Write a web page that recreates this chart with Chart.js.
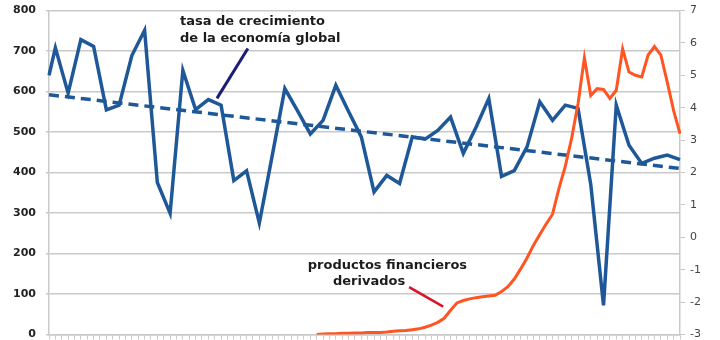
<!DOCTYPE html>
<html>
<head>
<meta charset="utf-8">
<script src="https://cdn.jsdelivr.net/npm/chart.js@4/dist/chart.umd.min.js"></script>
<style>
  html, body { margin: 0; padding: 0; background: #fff; }
  #wrap { width: 720px; height: 340px; }
</style>
</head>
<body>
<div id="wrap"><canvas id="chart" width="720" height="340"></canvas></div>
<script>
// half-year periods along the x axis (no labels drawn, only tick marks)
const periods = [];
for (let i = 0; i < 100; i++) {
  const year = 1960 + Math.floor((i + 1) / 2);
  periods.push(year + (i % 2 ? '-I' : '-II'));
}

// world GDP growth, % per year (right axis), one value per year
const growth = [5.0, 5.85, 4.45, 6.1, 5.89, 3.93, 4.08, 5.61, 6.39, 1.69,
  0.74, 5.15, 3.94, 4.25, 4.08, 1.75, 2.05, 0.44, 2.5, 4.59,
  3.9, 3.19, 3.61, 4.69, 3.88, 3.1, 1.4, 1.91, 1.66, 3.1,
  3.03, 3.3, 3.71, 2.59, 3.4, 4.28, 1.88, 2.06, 2.79, 4.18,
  3.61, 4.08, 3.98, 1.63, -2.1, 4.08, 2.84, 2.28, 2.44, 2.54, 2.4];

// linear trend of growth, first and last period
const trendEnds = [4.4, 2.125];

// derivatives outstanding (left axis), half-yearly from period 42
const derivStart = 42;
const derivatives = [0, 1, 2, 2, 3, 3, 4, 4, 5, 5,
  5, 6, 8, 9, 10, 12, 14, 18, 23, 30,
  40, 60, 78, 84, 88, 91, 93, 95, 97, 106,
  118, 137, 162, 189, 220, 247, 273, 297, 360, 415,
  485, 570, 683, 590, 607, 605, 583, 603, 705, 648,
  640, 636, 690, 711, 690, 623, 553, 496];

const growthSeries = periods.map(() => null);
growth.forEach((v, k) => { growthSeries[k === 0 ? 0 : 2 * k - 1] = v; });

const trendSeries = periods.map(() => null);
trendSeries[0] = trendEnds[0];
trendSeries[periods.length - 1] = trendEnds[1];

const derivSeries = periods.map((p, i) =>
  i >= derivStart ? derivatives[i - derivStart] : null);

const BLUE = '#1f5898';
const GRID = '#c9c9c9';

// text labels and pointer lines, placed in (period index, left-axis value)
const notes = [
  { text: 'tasa de crecimiento', at: [20.55, 765] },
  { text: 'de la economía global', at: [20.55, 722] },
  { text: 'productos financieros', at: [40.6, 161] },
  { text: 'derivados', at: [44.55, 121] }
];
const pointers = [
  { from: [31.2, 706], to: [26.35, 583], color: '#1b1e78', width: 3 },
  { from: [56.5, 117], to: [61.85, 69], color: '#d8132b', width: 2.5 }
];

const notesPlugin = {
  id: 'notes',
  afterDatasetsDraw(chart) {
    const { ctx, scales } = chart;
    const px = p => [scales.x.getPixelForValue(p[0]), scales.y.getPixelForValue(p[1])];
    ctx.save();
    pointers.forEach(l => {
      const a = px(l.from), b = px(l.to);
      ctx.strokeStyle = l.color;
      ctx.lineWidth = l.width;
      ctx.beginPath();
      ctx.moveTo(a[0], a[1]);
      ctx.lineTo(b[0], b[1]);
      ctx.stroke();
    });
    ctx.fillStyle = '#1c1c1c';
    ctx.font = 'bold 13px "DejaVu Sans"';
    ctx.textAlign = 'left';
    ctx.textBaseline = 'alphabetic';
    notes.forEach(n => {
      const p = px(n.at);
      ctx.fillText(n.text, p[0], p[1]);
    });
    ctx.restore();
  }
};

// fixed axis widths, and no extra room above/below for the tick labels
function fixWidth(w) {
  return scale => {
    scale.width = w;
    scale.paddingTop = 0;
    scale.paddingBottom = 0;
  };
}

new Chart(document.getElementById('chart'), {
  type: 'line',
  data: {
    labels: periods,
    datasets: [
      {
        label: 'productos financieros derivados',
        data: derivSeries,
        yAxisID: 'y',
        borderColor: '#ff5522',
        borderWidth: 3,
        pointRadius: 0,
        tension: 0,
        spanGaps: false
      },
      {
        label: 'tasa de crecimiento de la economía global',
        data: growthSeries,
        yAxisID: 'y2',
        borderColor: BLUE,
        borderWidth: 3.5,
        pointRadius: 0,
        tension: 0,
        spanGaps: true
      },
      {
        label: 'tendencia',
        data: trendSeries,
        yAxisID: 'y2',
        borderColor: BLUE,
        borderWidth: 3.5,
        borderDash: [10, 6],
        pointRadius: 0,
        spanGaps: true
      }
    ]
  },
  options: {
    responsive: false,
    animation: false,
    layout: { padding: { top: 10.5, right: 0, bottom: 0.5, left: 0 } },
    plugins: { legend: { display: false }, tooltip: { enabled: false } },
    scales: {
      x: {
        type: 'category',
        offset: false,
        ticks: { display: false, autoSkip: false },
        grid: { drawOnChartArea: false, drawTicks: true, tickLength: 5, color: GRID },
        border: { color: GRID, width: 1.5 }
      },
      y: {
        position: 'left',
        min: 0,
        max: 800,
        ticks: {
          stepSize: 100,
          padding: 10,
          color: '#222',
          font: { family: 'DejaVu Sans', weight: 'bold', size: 11, lineHeight: 1 }
        },
        grid: { color: GRID, lineWidth: 1.5, tickLength: 3 },
        border: { color: GRID, width: 1.5 },
        afterFit: fixWidth(49)
      },
      y2: {
        position: 'right',
        min: -3,
        max: 7,
        ticks: {
          stepSize: 1,
          padding: 5,
          color: '#444',
          font: { family: 'DejaVu Sans', size: 11, lineHeight: 1 }
        },
        grid: { drawOnChartArea: false, color: GRID, tickLength: 5 },
        border: { color: GRID, width: 1.5 },
        afterFit: fixWidth(40)
      }
    }
  },
  plugins: [notesPlugin]
});
</script>
</body>
</html>
